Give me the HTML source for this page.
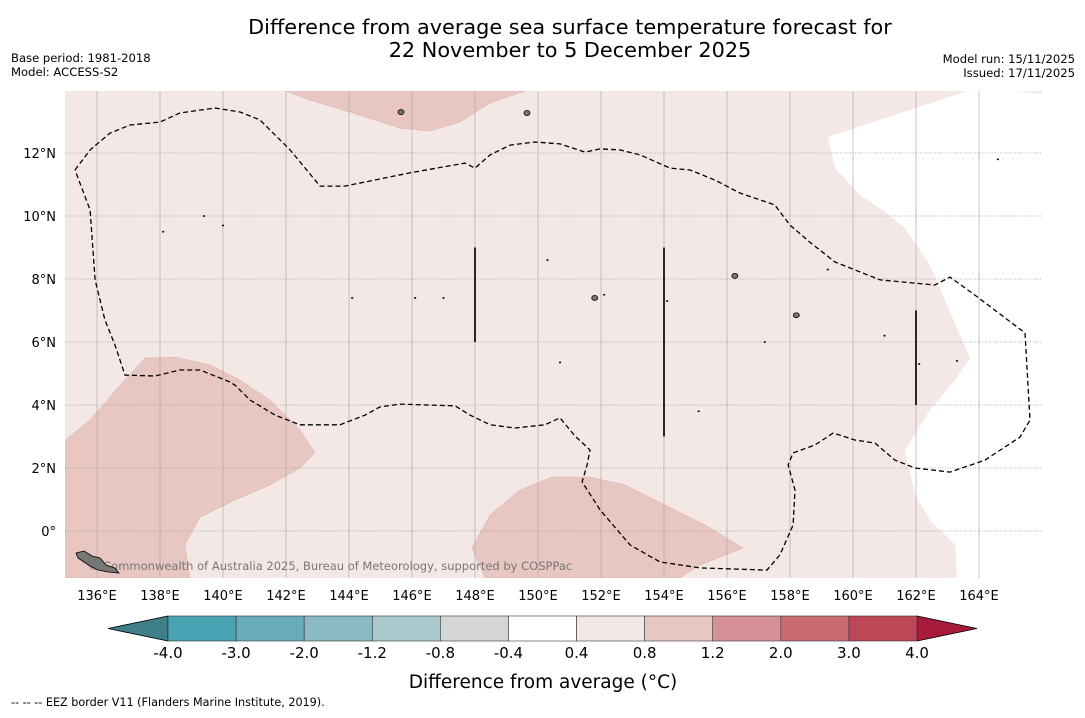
<!DOCTYPE html>
<html><head><meta charset="utf-8"><style>
body{margin:0;background:#fff;width:1085px;height:713px;overflow:hidden;font-family:"Liberation Sans","DejaVu Sans",sans-serif}
svg text{font-family:"DejaVu Sans","Liberation Sans",sans-serif}
</style></head><body>
<svg id="c" width="1085" height="713">
<text x="570" y="34" text-anchor="middle" font-size="20.8">Difference from average sea surface temperature forecast for</text>
<text x="570" y="57" text-anchor="middle" font-size="20.8">22 November to 5 December 2025</text>
<text x="11" y="62" font-size="11.6">Base period: 1981-2018</text>
<text x="11" y="76" font-size="11.6">Model: ACCESS-S2</text>
<text x="1075" y="63" font-size="11.6" text-anchor="end">Model run: 15/11/2025</text>
<text x="1075" y="77" font-size="11.6" text-anchor="end">Issued: 17/11/2025</text>
<text x="11" y="706" font-size="11.2">--  --  -- EEZ border V11 (Flanders Marine Institute, 2019).</text>
<text x="543" y="688" text-anchor="middle" font-size="18.5">Difference from average (°C)</text>
<g id="map"></g><g id="cb"></g>
</svg>
<script>
const lonTicks=[136,138,140,142,144,146,148,150,152,154,156,158,160,162,164];
const latTicks=[0,2,4,6,8,10,12];
const whiteLon=[163.65,159.21,159.43,160.22,161.02,161.65,162.44,163.71,163.24,162.44,161.65,161.97,162.44,163.24,163.3,166,166,165.14];
const whiteLat=[13.97,12.51,11.52,10.67,10.13,9.62,8.44,5.49,4.79,3.84,2.57,1.14,0.35,-0.44,-1.49,-1.49,13.87,13.97];
const topLon=[141.97,142.76,144.03,145.62,146.57,147.52,148.48,149.59];
const topLat=[13.97,13.68,13.3,12.79,12.7,12.98,13.59,13.97];
const blLon=[135,135.78,136.73,137.52,138.48,139.59,140.54,141.49,142.44,142.92,142.44,141.49,140.38,139.27,138.79,138.95,135];
const blLat=[2.89,3.52,4.63,5.49,5.52,5.27,4.79,4.16,3.21,2.48,2,1.46,0.98,0.44,-0.44,-1.49,-1.49];
const bcLon=[147.9,148.48,149.43,150.44,151.65,152.76,154.03,155.3,156.51,155.14,154.51,148.32];
const bcLat=[-0.54,0.51,1.3,1.71,1.71,1.46,0.83,0.19,-0.54,-1.08,-1.49,-1.49];
const ctLon=[135.3,135.78,136.41,137.05,138,138.63,139.75,140.54,141.17,142.13,143.08,143.87,145.94,147.68,148,148.48,149.11,149.9,150.7,151.49,151.97,152.6,153.24,154.19,154.83,155.62,156.41,157.52,158,158.63,159.43,160.86,162.6,163.08,163.87,165.46,165.62,165.3,164.19,163.08,161.97,161.33,160.7,160.06,159.37,158.79,158.1,157.94,158.16,158.1,157.68,157.27,155.14,153.87,152.92,151.97,151.4,151.56,151.65,151.17,150.7,150.22,149.27,148.48,147.84,147.37,145.62,144.98,144.51,143.71,142.44,141.65,140.86,140.38,140.22,139.27,138.63,137.84,136.89,136.57,136.25,135.94,135.78,135.3];
const ctLat=[11.46,12.1,12.63,12.89,12.98,13.27,13.43,13.3,13.05,12.1,10.95,10.95,11.37,11.68,11.52,11.94,12.25,12.35,12.29,12.03,12.13,12.1,11.94,11.52,11.46,11.14,10.73,10.35,9.71,9.17,8.54,7.97,7.81,8.06,7.49,6.29,3.52,2.98,2.25,1.87,2,2.25,2.79,2.89,3.11,2.73,2.48,2.1,1.3,0.19,-0.76,-1.24,-1.17,-0.98,-0.44,0.67,1.56,2.1,2.57,3.02,3.59,3.37,3.27,3.37,3.68,3.97,4.03,3.94,3.68,3.37,3.37,3.68,4.16,4.63,4.73,5.11,5.11,4.92,4.95,5.9,6.7,7.97,10.19,11.46];
const segLon=[148,154,162];
const segLat0=[6,3,4];
const segLat1=[9,9,7];
const islLon=[145.65,149.65,151.8,156.25,158.2,150.7,138.1,140.0,139.4,144.1,146.1,154.1,157.2,159.2,162.1,163.3,164.6,150.3,147.0,152.1,155.1,161.0];
const islLat=[13.3,13.27,7.4,8.1,6.85,5.35,9.5,9.7,10.0,7.4,7.4,7.3,6.0,8.3,5.3,5.4,11.8,8.6,7.4,7.5,3.8,6.2];
const cbLabels=["-4.0","-3.0","-2.0","-1.2","-0.8","-0.4","0.4","0.8","1.2","2.0","3.0","4.0"];
const cbColors=["#4aa3b2","#68acb9","#8bb9c4","#a9c9cd","#d5d7d7","#ffffff","#f4e8e6","#e8c6c1","#d69197","#c96a73","#bd4657"];

const NS="http://www.w3.org/2000/svg";
const X0=65.5,Y0=531,K=31.5,L=65,T=91,R=1042,B=578;
const xs=lon=>X0+(lon-135)*K, ys=lat=>Y0-lat*K;
function mk(t,a,p){const e=document.createElementNS(NS,t);for(const k in a)e.setAttribute(k,a[k]);p.appendChild(e);return e;}
const map=document.getElementById('map');
const defs=mk('defs',{},map);
const cp=mk('clipPath',{id:'clip'},defs);
mk('rect',{x:L,y:T,width:R-L,height:B-T},cp);
const bg=mk('rect',{x:L,y:T,width:R-L,height:B-T,fill:'#f4e8e6'},map);


const g=mk('g',{'clip-path':'url(#clip)'},map);
function poly(lons,lats,attrs,name){const pts=lons.map((v,i)=>xs(v).toFixed(1)+','+ys(lats[i]).toFixed(1)).join(' ');const e=mk('polygon',Object.assign({points:pts},attrs),g);

return e;}
poly(whiteLon,whiteLat,{fill:'#ffffff'},'anomaly-region-neutral');
poly(topLon,topLat,{fill:'#e8c6c1',stroke:'#d8b0aa','stroke-width':0.5},'anomaly-region-north');
poly(blLon,blLat,{fill:'#e8c6c1',stroke:'#d8b0aa','stroke-width':0.5},'anomaly-region-southwest');
poly(bcLon,bcLat,{fill:'#e8c6c1',stroke:'#d8b0aa','stroke-width':0.5},'anomaly-region-south');
lonTicks.forEach(v=>{const l=mk('line',{x1:xs(v),x2:xs(v),y1:T,y2:B,stroke:'#b0a8a8','stroke-width':0.7},g);

});
latTicks.forEach(v=>{const l=mk('line',{x1:L,x2:R,y1:ys(v),y2:ys(v),stroke:'#999','stroke-width':0.7,'stroke-dasharray':'1,1.5'},g);

});
const ct=mk('polyline',{points:ctLon.map((v,i)=>xs(v).toFixed(1)+','+ys(ctLat[i]).toFixed(1)).join(' '),fill:'none',stroke:'#000','stroke-width':1.3,'stroke-dasharray':'5,3'},g);


segLon.forEach((v,i)=>{const l=mk('line',{x1:xs(v),x2:xs(v),y1:ys(segLat0[i]),y2:ys(segLat1[i]),stroke:'#111','stroke-width':1.8},g);

});
islLon.forEach((v,i)=>{const big=i<5;const e=mk('ellipse',{cx:xs(v),cy:ys(islLat[i]),rx:big?3:1,ry:big?2.5:0.8,fill:big?'#777':'#111',stroke:'#000','stroke-width':big?0.8:0.3},g);

});
const cr=mk('text',{x:88,y:570,'font-size':11.5,fill:'#777'},g);cr.textContent='© Commonwealth of Australia 2025, Bureau of Meteorology, supported by COSPPac';


const bi=mk('polygon',{points:'76,553 84,551 92,556 100,558 106,565 115,568 119,573 108,572 98,570 90,566 84,562 78,558',fill:'#777',stroke:'#000','stroke-width':0.8},g);


lonTicks.forEach(v=>{const t=mk('text',{x:xs(v),y:600,'text-anchor':'middle','font-size':13},map);t.textContent=v+'°E';

});
latTicks.forEach(v=>{const t=mk('text',{x:56,y:ys(v)+5,'text-anchor':'end','font-size':13},map);t.textContent=v==0?'0°':v+'°N';

});
const cb=document.getElementById('cb');
const cx0=168,cx1=917,cy0=616,cy1=641,w=(cx1-cx0)/cbColors.length;
const la=mk('polygon',{points:`108,${(cy0+cy1)/2} ${cx0},${cy0} ${cx0},${cy1}`,fill:'#3e7f88',stroke:'#000','stroke-width':0.8},cb);


const ra=mk('polygon',{points:`977,${(cy0+cy1)/2} ${cx1},${cy0} ${cx1},${cy1}`,fill:'#a61c3a',stroke:'#000','stroke-width':0.8},cb);


cbColors.forEach((c,i)=>{const r=mk('rect',{x:cx0+i*w,y:cy0,width:w,height:cy1-cy0,fill:c,stroke:'#333','stroke-width':0.6},cb);

});
cbLabels.forEach((s,i)=>{const t=mk('text',{x:cx0+i*w,y:658,'text-anchor':'middle','font-size':15},cb);t.textContent=s;

});
</script>
</body></html>
